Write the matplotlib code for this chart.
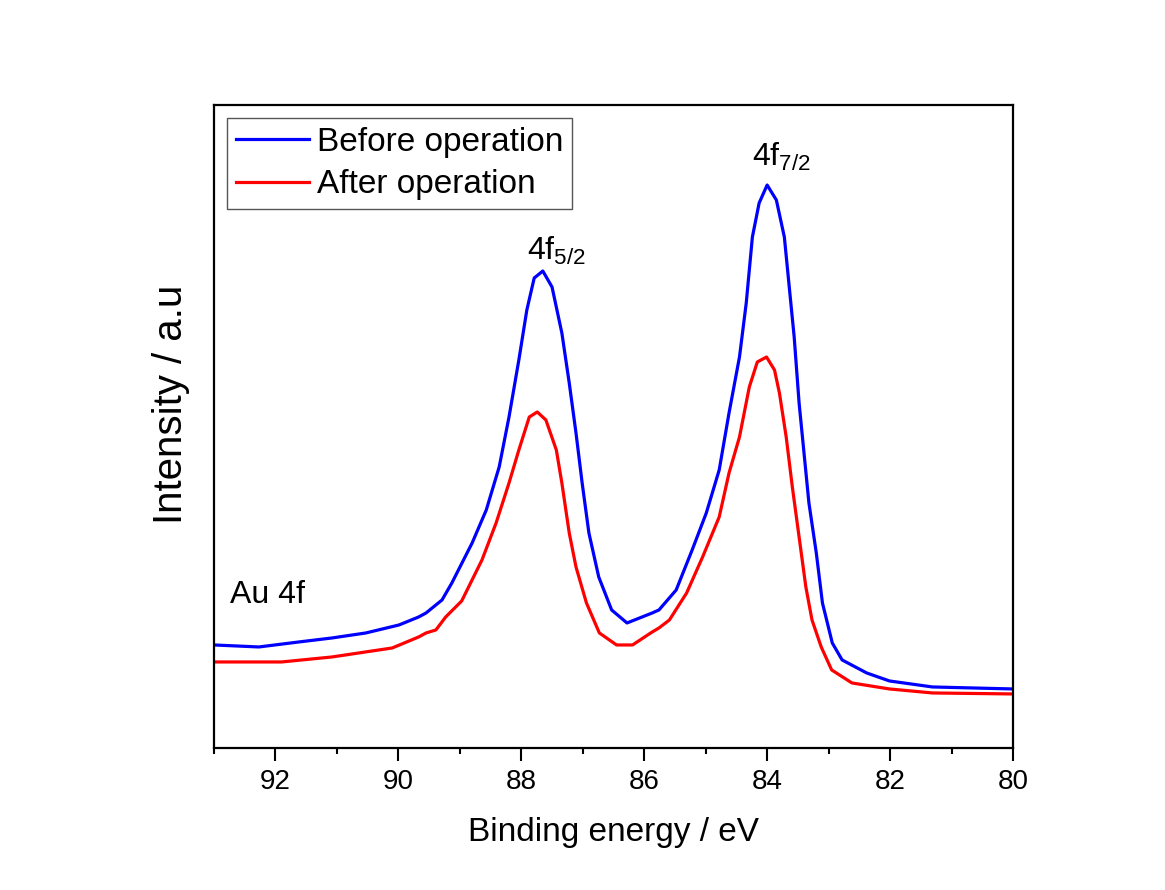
import matplotlib
matplotlib.use("Agg")
import matplotlib.pyplot as plt
from matplotlib.ticker import MultipleLocator, NullLocator

plt.rcParams["font.family"] = ["Liberation Sans", "DejaVu Sans"]
plt.rcParams["mathtext.default"] = "regular"

# Au 4f XPS spectra (intensity in arbitrary units)
be_before = [93.0, 92.27, 91.62, 91.08, 90.53, 89.99, 89.67, 89.55, 89.29, 89.13,
             88.80, 88.57, 88.36, 88.20, 88.04, 87.91, 87.79, 87.65, 87.50, 87.34,
             87.22, 87.11, 87.01, 86.90, 86.74, 86.53, 86.28, 85.87, 85.76, 85.48,
             85.22, 84.99, 84.78, 84.62, 84.45, 84.34, 84.24, 84.13, 84.00, 83.85,
             83.72, 83.64, 83.56, 83.48, 83.40, 83.32, 83.20, 83.10, 82.94, 82.78,
             82.38, 82.01, 81.31, 80.0]
int_before = [103, 101, 106, 110, 115, 123, 131, 135, 148, 165,
              205, 238, 281, 331, 388, 438, 470, 477, 461, 415,
              365, 315, 265, 215, 171, 138, 125, 135, 138, 158,
              198, 235, 278, 335, 391, 445, 511, 545, 563, 548,
              511, 461, 411, 345, 295, 245, 195, 145, 105, 88,
              75, 67, 61, 59]

be_after = [93.0, 91.9, 91.08, 90.10, 89.67, 89.55, 89.39, 89.23, 88.97, 88.64,
            88.41, 88.20, 88.04, 87.87, 87.74, 87.60, 87.43, 87.34, 87.22, 87.11,
            86.94, 86.73, 86.45, 86.19, 85.87, 85.76, 85.59, 85.31, 85.05, 84.78,
            84.62, 84.45, 84.29, 84.16, 84.01, 83.88, 83.80, 83.69, 83.59, 83.48,
            83.37, 83.27, 83.12, 82.95, 82.62, 82.01, 81.31, 80.0]
int_after = [86, 86, 91, 100, 111, 115, 118, 131, 147, 188,
             225, 265, 298, 331, 336, 328, 298, 265, 215, 181,
             145, 115, 103, 103, 116, 120, 128, 155, 191, 231,
             275, 311, 361, 386, 391, 378, 355, 311, 261, 211,
             161, 128, 101, 78, 65, 59, 55, 54]

fig = plt.figure(figsize=(11.65, 8.9), dpi=100)
ax = fig.add_axes([0.1837, 0.1596, 0.6858, 0.7224])

ax.plot(be_before, int_before, color="#0000ff", lw=2.3, label="Before operation")
ax.plot(be_after, int_after, color="#ff0000", lw=2.3, label="After operation")

ax.set_xlim(93, 80)
ax.set_ylim(0, 643)
ax.xaxis.set_major_locator(MultipleLocator(2))
ax.xaxis.set_minor_locator(MultipleLocator(1))
ax.yaxis.set_major_locator(NullLocator())
ax.tick_params(axis="x", which="major", direction="out", length=9, width=1.5,
               labelsize=20, pad=6)
ax.tick_params(axis="x", which="minor", direction="out", length=4.5, width=1.5)
for sp in ax.spines.values():
    sp.set_linewidth(1.6)

ax.set_xlabel("Binding energy / eV", fontsize=24, labelpad=16)
ax.set_ylabel("Intensity / a.u", fontsize=29)
ax.yaxis.set_label_coords(-0.030, 0.535)

ax.text(87.90, 488, "4f$_{5/2}$", fontsize=23, ha="left", va="baseline")
ax.text(84.25, 582, "4f$_{7/2}$", fontsize=23, ha="left", va="baseline")
ax.text(92.74, 145, "Au 4f", fontsize=23, ha="left", va="baseline")

leg = ax.legend(loc="upper left", fontsize=24, frameon=True, fancybox=False,
                edgecolor="#555555", framealpha=1, borderaxespad=0.4,
                borderpad=0.25, labelspacing=0.35, handlelength=2.2,
                handletextpad=0.25)
leg.get_frame().set_linewidth(1.0)

fig.savefig("out.png", dpi=100)
